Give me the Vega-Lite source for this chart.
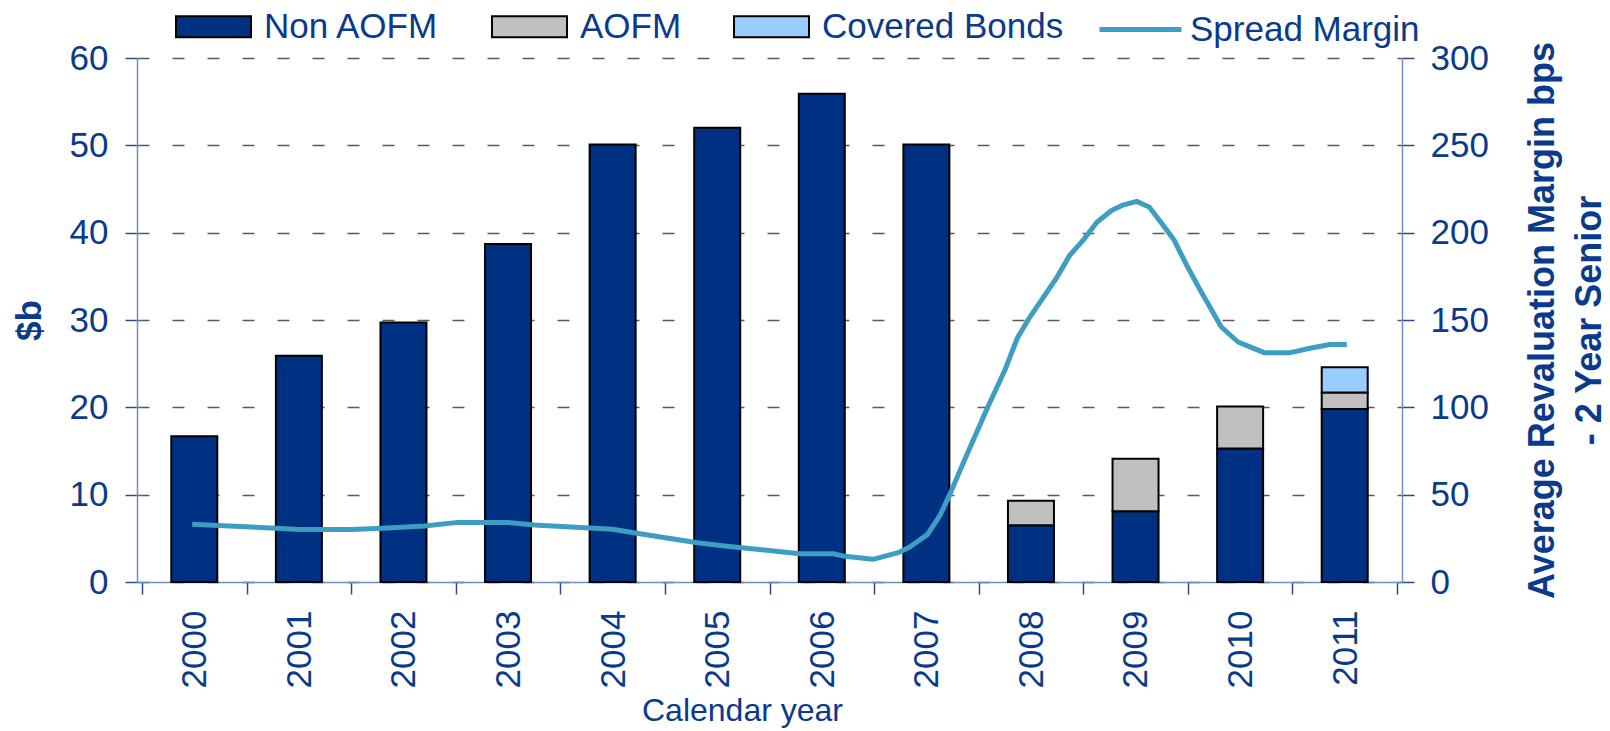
{
  "$schema": "https://vega.github.io/schema/vega-lite/v6.json",
  "width": 1265,
  "height": 524,
  "autosize": {"type": "none"},
  "padding": {"left": 137, "top": 58, "right": 208, "bottom": 149},
  "background": "white",
  "config": {
    "font": "Liberation Sans",
    "view": {"stroke": null},
    "axis": {
      "labelFont": "Liberation Sans",
      "titleFont": "Liberation Sans",
      "labelColor": "#0a3a8c",
      "titleColor": "#0a3a8c",
      "domainColor": "#6f8fc6",
      "domainWidth": 1.5,
      "tickColor": "#2a4a90",
      "tickWidth": 1.5
    },
    "legend": {"labelFont": "Liberation Sans"}
  },
  "layer": [
    {
      "data": {
        "values": [
          {"year": 2000, "series": "Non AOFM", "value": 16.7},
          {"year": 2001, "series": "Non AOFM", "value": 25.9},
          {"year": 2002, "series": "Non AOFM", "value": 29.7},
          {"year": 2003, "series": "Non AOFM", "value": 38.7},
          {"year": 2004, "series": "Non AOFM", "value": 50.1},
          {"year": 2005, "series": "Non AOFM", "value": 52.0},
          {"year": 2006, "series": "Non AOFM", "value": 55.9},
          {"year": 2007, "series": "Non AOFM", "value": 50.1},
          {"year": 2008, "series": "Non AOFM", "value": 6.5},
          {"year": 2008, "series": "AOFM", "value": 2.8},
          {"year": 2009, "series": "Non AOFM", "value": 8.1},
          {"year": 2009, "series": "AOFM", "value": 6.0},
          {"year": 2010, "series": "Non AOFM", "value": 15.3},
          {"year": 2010, "series": "AOFM", "value": 4.8},
          {"year": 2011, "series": "Non AOFM", "value": 19.8},
          {"year": 2011, "series": "AOFM", "value": 1.9},
          {"year": 2011, "series": "Covered Bonds", "value": 2.9}
        ]
      },
      "transform": [
        {
          "lookup": "series",
          "from": {
            "data": {"values": [
              {"series": "Non AOFM", "rank": 1},
              {"series": "AOFM", "rank": 2},
              {"series": "Covered Bonds", "rank": 3}
            ]},
            "key": "series",
            "fields": ["rank"]
          }
        }
      ],
      "mark": {"type": "bar", "size": 46, "stroke": "black", "strokeWidth": 2},
      "encoding": {
        "x": {
          "field": "year",
          "type": "quantitative",
          "title": "Calendar year",
          "scale": {"domain": [1999.5, 2011.5], "nice": false, "zero": false},
          "axis": {
            "values": [1999.5, 2000.5, 2001.5, 2002.5, 2003.5, 2004.5, 2005.5, 2006.5, 2007.5, 2008.5, 2009.5, 2010.5, 2011.5],
            "labelExpr": "datum.value < 2011 ? format(datum.value + 0.5, 'd') : ''",
            "labelOffset": 52.7,
            "labelAngle": 270,
            "labelFontSize": 35,
            "labelPadding": 16,
            "labelFlush": false,
            "labelOverlap": false,
            "tickSize": 12,
            "grid": false,
            "titleFontSize": 32,
            "titleFontWeight": "normal",
            "titlePadding": 8,
            "titleX": 605
          }
        },
        "y": {
          "field": "value",
          "type": "quantitative",
          "stack": "zero",
          "scale": {"domain": [0, 60], "nice": false},
          "axis": {
            "title": "$b",
            "values": [0, 10, 20, 30, 40, 50, 60],
            "labelFontSize": 35,
            "labelPadding": 17,
            "tickSize": 12,
            "grid": true,
            "gridDash": [12, 23],
            "gridColor": "#5a5a5a",
            "gridWidth": 1.5,
            "titleFontSize": 35,
            "titleFontWeight": "bold",
            "titlePadding": 22
          }
        },
        "order": {"field": "rank", "type": "quantitative", "sort": "ascending"},
        "color": {
          "field": "series",
          "type": "nominal",
          "scale": {"domain": ["Non AOFM", "AOFM", "Covered Bonds"], "range": ["#003082", "#c0c0c0", "#99ccff"]},
          "legend": {
            "title": null,
            "orient": "none",
            "direction": "horizontal",
            "legendX": 38,
            "legendY": -70,
            "padding": 0,
            "symbolType": "M-1,-0.28H1V0.28H-1Z",
            "symbolSize": 5625,
            "symbolStrokeColor": "black",
            "symbolStrokeWidth": 2,
            "symbolOpacity": 1,
            "labelFontSize": 35,
            "labelColor": "#0a3a8c",
            "labelOffset": 12,
            "columnPadding": 48,
            "labelLimit": 400
          }
        }
      }
    },
    {
      "data": {
        "values": [
          {"t": 1999.98, "margin": 33.0},
          {"t": 2000.79, "margin": 30.8},
          {"t": 2001.0, "margin": 30.0},
          {"t": 2001.5, "margin": 30.0},
          {"t": 2001.8, "margin": 30.8},
          {"t": 2002.2, "margin": 32.1},
          {"t": 2002.5, "margin": 34.0},
          {"t": 2003.0, "margin": 34.0},
          {"t": 2003.25, "margin": 32.6},
          {"t": 2004.0, "margin": 30.2},
          {"t": 2004.26, "margin": 27.6},
          {"t": 2004.81, "margin": 22.5},
          {"t": 2005.07, "margin": 20.6},
          {"t": 2005.79, "margin": 16.2},
          {"t": 2006.11, "margin": 16.2},
          {"t": 2006.22, "margin": 14.7},
          {"t": 2006.49, "margin": 13.0},
          {"t": 2006.73, "margin": 16.8},
          {"t": 2006.84, "margin": 20.0},
          {"t": 2007.01, "margin": 27.1},
          {"t": 2007.13, "margin": 38.2},
          {"t": 2007.22, "margin": 49.6},
          {"t": 2007.37, "margin": 70.6},
          {"t": 2007.58, "margin": 99.2},
          {"t": 2007.75, "margin": 121.2},
          {"t": 2007.87, "margin": 139.7},
          {"t": 2007.98, "margin": 150.8},
          {"t": 2008.25, "margin": 174.6},
          {"t": 2008.37, "margin": 187.0},
          {"t": 2008.51, "margin": 196.5},
          {"t": 2008.63, "margin": 206.0},
          {"t": 2008.77, "margin": 212.7},
          {"t": 2008.87, "margin": 215.6},
          {"t": 2009.01, "margin": 217.9},
          {"t": 2009.13, "margin": 214.7},
          {"t": 2009.23, "margin": 207.0},
          {"t": 2009.37, "margin": 195.6},
          {"t": 2009.49, "margin": 181.3},
          {"t": 2009.61, "margin": 168.0},
          {"t": 2009.82, "margin": 146.0},
          {"t": 2009.98, "margin": 137.4},
          {"t": 2010.1, "margin": 134.5},
          {"t": 2010.23, "margin": 131.3},
          {"t": 2010.48, "margin": 131.3},
          {"t": 2010.68, "margin": 134.0},
          {"t": 2010.86, "margin": 136.0},
          {"t": 2011.02, "margin": 136.0}
        ]
      },
      "mark": {"type": "line", "strokeWidth": 5, "strokeJoin": "round"},
      "encoding": {
        "x": {"field": "t", "type": "quantitative", "title": "Calendar year"},
        "y": {
          "field": "margin",
          "type": "quantitative",
          "scale": {"domain": [0, 300], "nice": false},
          "axis": {
            "orient": "right",
            "title": ["Average Revaluation Margin bps", "- 2 Year Senior"],
            "values": [0, 50, 100, 150, 200, 250, 300],
            "labelFontSize": 35,
            "labelPadding": 16,
            "tickSize": 12,
            "grid": false,
            "titleFontSize": 36,
            "titleFontWeight": "bold",
            "titleAngle": 270,
            "titleLineHeight": 47,
            "titlePadding": 26
          }
        },
        "stroke": {
          "datum": "Spread Margin",
          "type": "nominal",
          "scale": {"domain": ["Spread Margin"], "range": ["#3d9dc2"]},
          "legend": {
            "title": null,
            "orient": "none",
            "direction": "horizontal",
            "legendX": 960,
            "legendY": -72,
            "padding": 0,
            "symbolType": "stroke",
            "symbolSize": 6724,
            "symbolStrokeWidth": 5,
            "labelFontSize": 35,
            "labelColor": "#0a3a8c",
            "labelOffset": 6,
            "labelLimit": 400
          }
        }
      }
    }
  ],
  "resolve": {"scale": {"y": "independent"}}
}
